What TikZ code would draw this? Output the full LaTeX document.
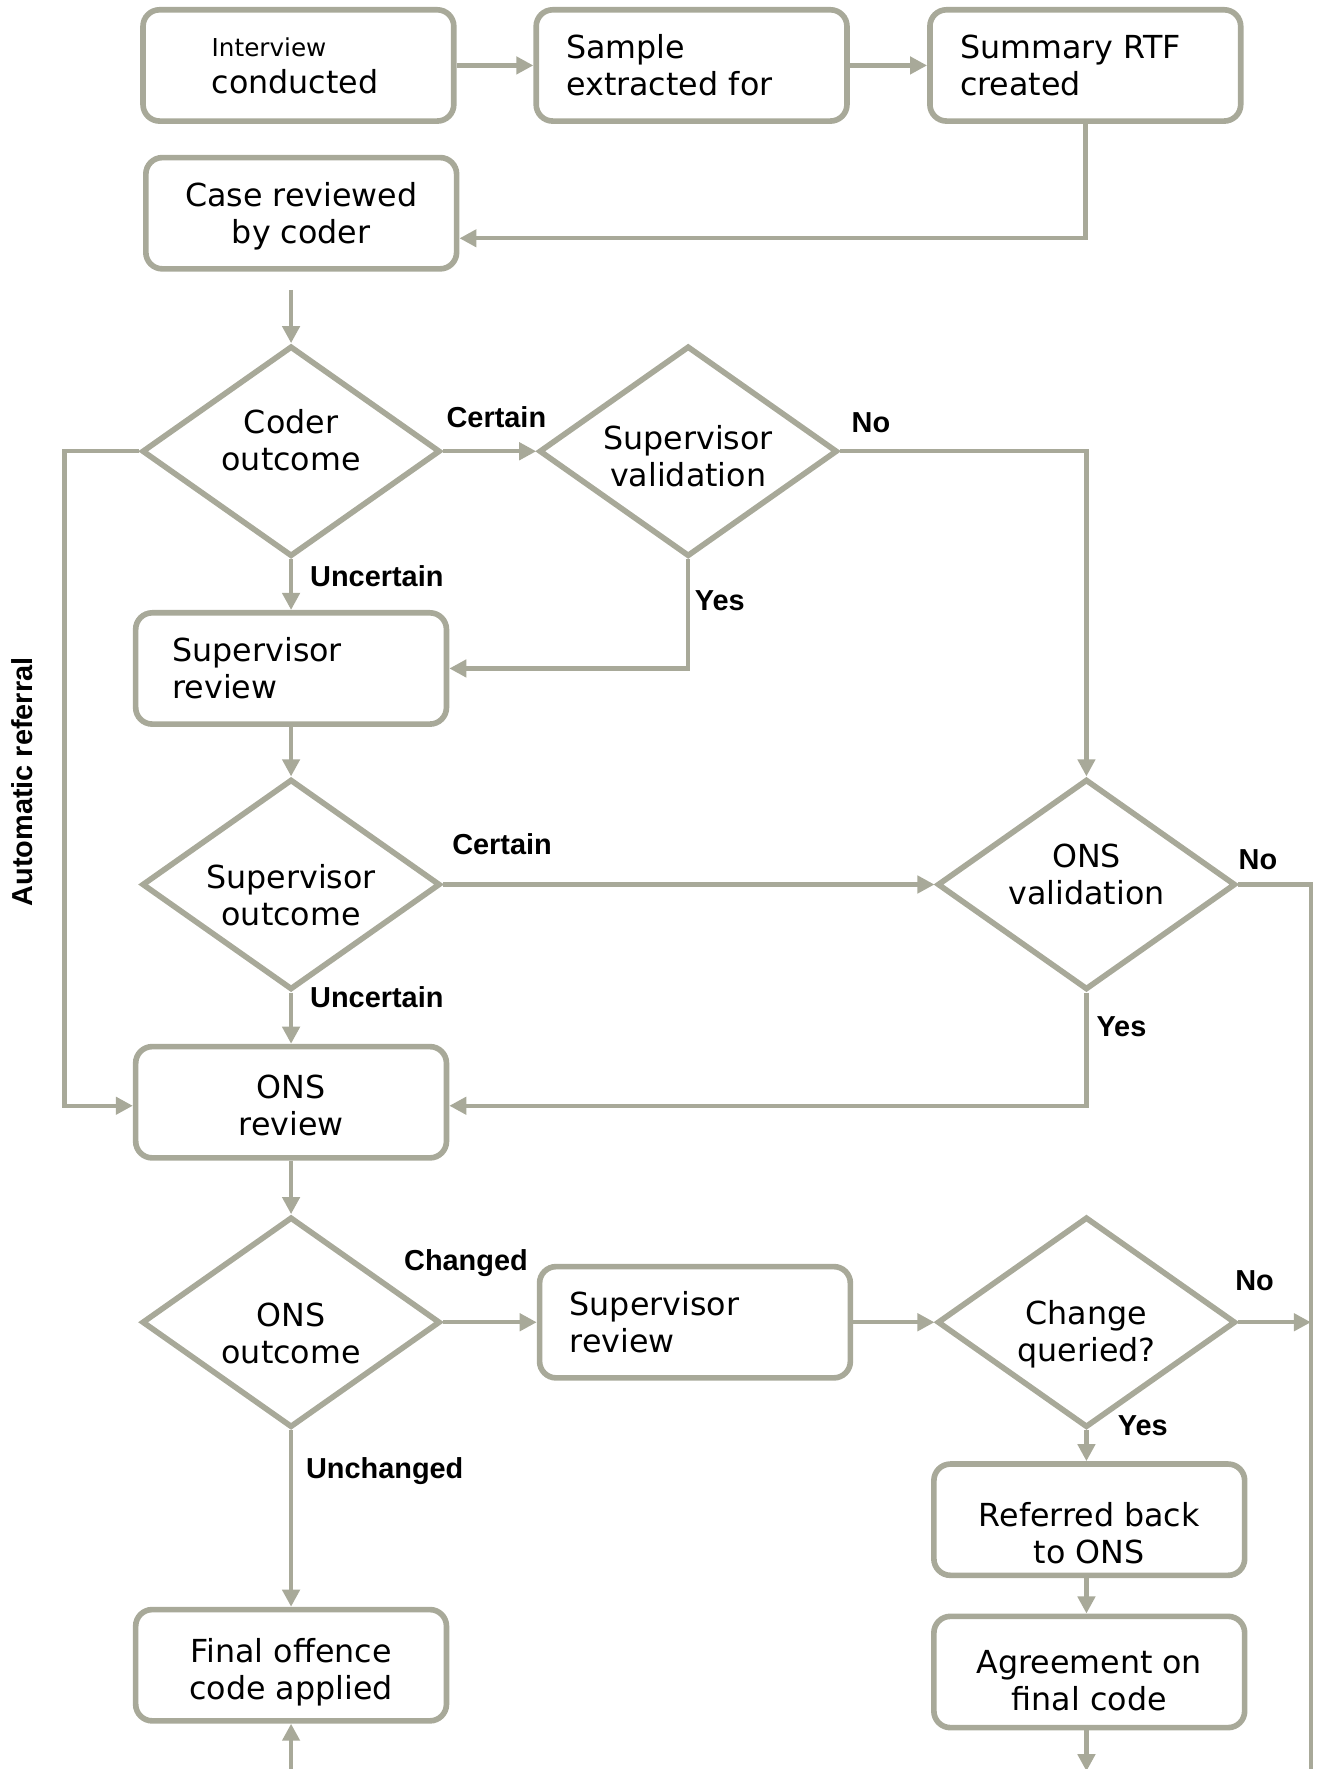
\documentclass[tikz,border=0pt]{standalone}
\usepackage{fontspec}
\setmainfont{DejaVu Sans}
\newfontfamily\labelsans{Liberation Sans}
\usetikzlibrary{shapes.geometric,arrows.meta}
\definecolor{flowgray}{RGB}{168,169,153}
\newcommand\boxfont{\fontsize{18}{21}\selectfont}
\newcommand\lblfont{\labelsans\bfseries\fontsize{16.4}{19}\selectfont}
\tikzset{
	procbox/.style={draw=flowgray, line width=3.2pt, rounded corners=0.33cm, fill=white,
		minimum width=6.2cm, minimum height=2.22cm, align=center, font=\boxfont},
	leftbox/.style={procbox, align=left, text width=5cm, inner xsep=0.6cm},
	decision/.style={draw=flowgray, line width=3.2pt, diamond, aspect=1.42, inner sep=0pt,
		minimum width=5.95cm, minimum height=4.2cm},
	dtext/.style={font=\boxfont, align=center},
	flow/.style={draw=flowgray, line width=2.5pt, -{Triangle[length=0.34cm,width=0.34cm]}},
	plain/.style={draw=flowgray, line width=2.5pt},
	lbl/.style={font=\lblfont}
}

\begin{document}
\begin{tikzpicture}[x=0.0225cm,y=-0.0225cm]
	\useasboundingbox (0,0) rectangle (1169,1568);

	% boxes and decisions
	\node[leftbox, text width=3.46cm, inner xsep=1.37cm] (interview) at (264.5,58)
		{{\fontsize{14}{16}\selectfont Interview}\\conducted};
	\node[leftbox] (sample) at (613,58) {Sample\\extracted for};
	\node[leftbox] (summary) at (962,58) {Summary RTF\\created};
	\node[procbox, label={[dtext,yshift=-0.07cm]center:{Case reviewed\\by coder}}] (casereview) at (267,189) {};

	\node[decision, label={[dtext,yshift=0.22cm]center:{Coder\\outcome}}] (coderout) at (258,400) {};
	\node[decision, label={[dtext,yshift=-0.1cm]center:{Supervisor\\validation}}] (supval) at (610,400) {};
	\node[leftbox, text width=4.73cm, inner xsep=0.73cm] (supreview) at (258,592.5) {Supervisor\\review};
	\node[decision, label={[dtext,yshift=-0.22cm]center:{Supervisor\\outcome}}] (supout) at (258,784) {};
	\node[decision, label={[dtext,yshift=0.2cm]center:{ONS\\validation}}] (onsval) at (963,784) {};
	\node[procbox, label={[dtext,yshift=-0.06cm]center:{ONS\\review}}] (onsreview) at (258,977) {};
	\node[decision, label={[dtext,yshift=-0.22cm]center:{ONS\\outcome}}] (onsout) at (258,1172) {};
	\node[leftbox] (supreviewb) at (616,1172) {Supervisor\\review};
	\node[decision, label={[dtext,yshift=-0.24cm]center:{Change\\queried?}}] (changeq) at (963,1172) {};
	\node[procbox, label={[dtext,yshift=-0.26cm]center:{Referred back\\to ONS}}] (referred) at (965.5,1347) {};
	\node[procbox, label={[dtext,yshift=-0.18cm]center:{Agreement on\\final code}}] (agreement) at (965.5,1482) {};
	\node[procbox, label={[dtext,yshift=-0.15cm]center:{Final offence\\code applied}}] (final) at (258,1476) {};

	% free ends
	\coordinate (intop) at (258,257);
	\coordinate (rightbot) at (1162,1620);
	\coordinate (agreebot) at (963,1570);
	\coordinate (finalbot) at (258,1620);

	% connectors
	\draw[flow] (interview) -- (sample);
	\draw[flow] (sample) -- (summary);
	\draw[flow] (summary.south) |- ([yshift=-0.5cm]casereview.east);
	\draw[flow] (intop) -- (coderout.north);
	\draw[flow] (coderout.east) -- (supval.west);
	\draw[flow] (supval.east) -| (onsval.north);
	\draw[flow] (coderout.west) -- ++(-66,0) |- ([yshift=-0.07cm]onsreview.west);
	\draw[flow] (coderout.south) -- (supreview.north);
	\draw[flow] (supval.south) |- (supreview.east);
	\draw[flow] (supreview.south) -- (supout.north);
	\draw[flow] (supout.east) -- (onsval.west);
	\draw[plain] (onsval.east) -| (rightbot);
	\draw[flow] (supout.south) -- (onsreview.north);
	\draw[flow] (onsval.south) |- ([yshift=-0.07cm]onsreview.east);
	\draw[flow] (onsreview.south) -- (onsout.north);
	\draw[flow] (onsout.east) -- (supreviewb.west);
	\draw[flow] (supreviewb.east) -- (changeq.west);
	\draw[flow] (changeq.east) -- (changeq.east -| rightbot);
	\draw[flow] (changeq.south) -- (changeq.south |- referred.north);
	\draw[flow] (referred.south -| agreebot) -- (agreement.north -| agreebot);
	\draw[flow] (agreement.south -| agreebot) -- (agreebot);
	\draw[flow] (onsout.south) -- (final.north);
	\draw[flow] (finalbot) -- (final.south);

	% labels
	\node[lbl, rotate=90] (autoref) at (20,693) {Automatic referral};
	\node[lbl] (certaina) at (440,370) {Certain};
	\node[lbl] (noa) at (772,375) {No};
	\node[lbl] (uncertaina) at (334,511) {Uncertain};
	\node[lbl] (yesa) at (638,532) {Yes};
	\node[lbl] (certainb) at (445,748) {Certain};
	\node[lbl] (nob) at (1115,762) {No};
	\node[lbl] (uncertainb) at (334,884) {Uncertain};
	\node[lbl] (yesb) at (994,910) {Yes};
	\node[lbl] (changed) at (413,1120) {Changed};
	\node[lbl] (noc) at (1112,1135) {No};
	\node[lbl] (yesc) at (1013,1264) {Yes};
	\node[lbl] (unchanged) at (341,1304) {Unchanged};
\end{tikzpicture}
\end{document}
